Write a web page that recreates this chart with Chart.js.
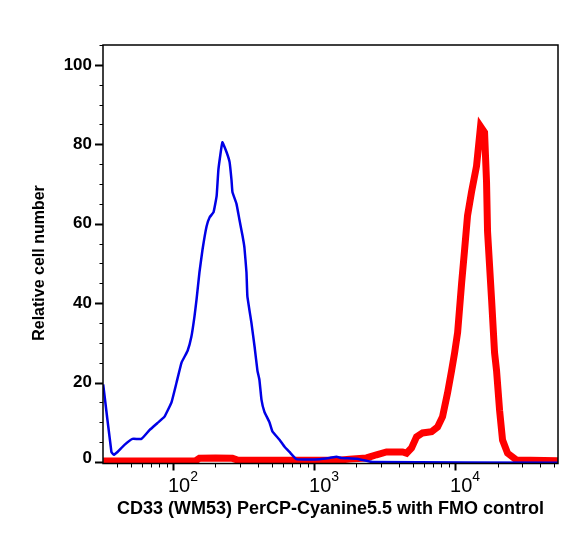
<!DOCTYPE html>
<html>
<head>
<meta charset="utf-8">
<script src="https://cdn.jsdelivr.net/npm/chart.js@4.4.1/dist/chart.umd.min.js"></script>
<style>
  body { margin: 0; background: #fff; }
  #wrap { width: 579px; height: 535px; position: relative; }
</style>
</head>
<body>
<div id="wrap"><canvas id="histo"></canvas></div>
<script>
// FMO control (blue) : [fluorescence, relative cell number]
var fmoX = [32, 36.6, 38, 40.4, 45.3, 51.6, 59.8, 68.1, 77.6, 87.1, 97.6, 106, 115, 127, 135, 142, 147, 154, 162, 173,
            182, 194, 204, 210, 224, 240, 252, 260, 264, 282, 296, 311, 321, 332, 337, 360, 379, 397, 410, 424,
            445, 483, 508, 569, 618, 670, 751, 1094, 1288, 1444, 1567, 2000, 2600, 53700];
var fmoY = [19.5, 2.5, 1.8, 2.5, 4.3, 5.8, 5.8, 8, 9.8, 11.4, 15, 20, 25, 28, 31.5, 36.6, 41, 47.7, 53.5, 59.3,
            61.6, 62.9, 67, 73.7, 80.5, 78, 75.5, 71, 68, 65, 61, 57, 54, 47.7, 41.7, 35, 29, 23, 20.7, 15.7,
            12.6, 10, 7.6, 5.6, 3.8, 2.5, 0.7, 0.7, 1, 1.3, 1, 0.8, 0, -0.2];

// CD33 stained (red)
var cd33X = [32, 100, 145, 154, 200, 264, 290, 670, 1500, 1786, 2355, 2773, 3266, 4244, 4530, 4914, 5333, 5885, 6819, 7520,
             8154, 8851, 9451, 9930, 10430, 11130, 11690, 12260, 13090, 14200, 15160, 16190, 16720, 17000, 18150, 19060, 19690, 20690, 21720, 23570,
             27290, 53700];
var cd33Y = [0.2, 0.2, 0.3, 0.9, 1.0, 0.9, 0.4, 0.4, 0.4, 0.7, 1.0, 1.8, 2.5, 2.5, 2.2, 3.5, 6.3, 7.3, 7.6, 8.8,
             11.4, 17.4, 23, 27.5, 32.6, 45, 53.5, 62, 68, 74.5, 84.5, 83, 70.5, 58, 41, 27.5, 23, 13, 5.5, 2.2,
             0.5, 0.3];

var yLabels = [0, 20, 40, 60, 80, 100];
var xDecades = [100, 1000, 10000];
var xExponents = ['2', '3', '4'];
var yTitle = 'Relative cell number';

var FONT = "'Liberation Sans', Arial, Helvetica, sans-serif";

function pts(xs, ys) {
    var out = [];
    for (var i = 0; i < xs.length; i++) out.push({ x: xs[i], y: ys[i] });
    return out;
}

var axesPlugin = {
    id: 'axesPlugin',
    afterDraw: function (chart) {
        var ctx = chart.ctx, a = chart.chartArea;
        var xs = chart.scales.x, ys = chart.scales.y;
        ctx.save();
        ctx.strokeStyle = '#000';
        ctx.fillStyle = '#000';

        // frame
        ctx.lineWidth = 1.5;
        ctx.strokeRect(a.left, a.top, a.right - a.left, a.bottom - a.top);

        // y ticks every 5, major every 20
        for (var v = 0; v <= 105; v += 5) {
            var py = Math.round(ys.getPixelForValue(v)) + 0.5;
            var major = v % 20 === 0;
            ctx.lineWidth = major ? 2 : 1;
            ctx.beginPath();
            ctx.moveTo(a.left - (major ? 8 : 3.5), py);
            ctx.lineTo(a.left, py);
            ctx.stroke();
        }
        ctx.font = 'bold 17px ' + FONT;
        ctx.textAlign = 'right';
        ctx.textBaseline = 'middle';
        yLabels.forEach(function (v) {
            var py = Math.min(ys.getPixelForValue(v), a.bottom - 5);
            ctx.fillText(String(v), a.left - 11, py);
        });

        // y title
        ctx.save();
        ctx.translate(40, 263);
        ctx.rotate(-Math.PI / 2);
        ctx.font = 'bold 16px ' + FONT;
        ctx.textAlign = 'center';
        ctx.fillText(yTitle, 0, 0);
        ctx.restore();

        // x log ticks
        for (var d = 10; d <= 100000; d *= 10) {
            for (var k = 1; k <= 9; k++) {
                var val = k * d;
                if (val < xs.min || val > xs.max) continue;
                var px = Math.round(xs.getPixelForValue(val)) + 0.5;
                ctx.lineWidth = k === 1 ? 2 : 1;
                ctx.beginPath();
                ctx.moveTo(px, a.bottom);
                ctx.lineTo(px, a.bottom + (k === 1 ? 7 : 4));
                ctx.stroke();
            }
        }
        ctx.textAlign = 'left';
        ctx.textBaseline = 'alphabetic';
        xDecades.forEach(function (v, i) {
            var px = xs.getPixelForValue(v);
            ctx.font = '20px ' + FONT;
            ctx.fillText('10', px - 5, 492);
            var w = ctx.measureText('10').width;
            ctx.font = '14px ' + FONT;
            ctx.fillText(xExponents[i], px - 5 + w, 481);
        });
        ctx.restore();
    }
};

var ctx = document.getElementById('histo').getContext('2d');
window.histo = new Chart(ctx, {
    type: 'line',
    data: {
        datasets: [{
            label: 'FMO control',
            data: pts(fmoX, fmoY),
            borderColor: '#0000e6',
            borderWidth: 2.5,
            pointRadius: 0,
            tension: 0.1
        }, {
            label: 'CD33 (WM53) PerCP-Cyanine5.5',
            data: pts(cd33X, cd33Y),
            borderColor: '#ff0000',
            borderWidth: 7,
            pointRadius: 0,
            tension: 0
        }]
    },
    options: {
        responsive: true,
        maintainAspectRatio: false,
        animation: false,
        layout: { padding: { left: 0, right: 21, top: 45, bottom: 0 } },
        plugins: { legend: { display: false }, tooltip: { enabled: false } },
        scales: {
            x: {
                type: 'logarithmic',
                min: 31.9,
                max: 53700,
                grid: { display: false, drawTicks: false },
                border: { display: false },
                ticks: { display: false },
                title: {
                    display: true,
                    text: 'CD33 (WM53) PerCP-Cyanine5.5 with FMO control',
                    color: '#000',
                    font: { family: FONT, size: 18, weight: 'bold' },
                    padding: { top: 0, bottom: 15 }
                },
                afterFit: function (s) { s.height = 71.5; }
            },
            y: {
                min: -0.4,
                max: 105,
                grid: { display: false, drawTicks: false },
                border: { display: false },
                ticks: { display: false },
                afterFit: function (s) { s.width = 103; }
            }
        }
    },
    plugins: [axesPlugin]
});
</script>
</body>
</html>
